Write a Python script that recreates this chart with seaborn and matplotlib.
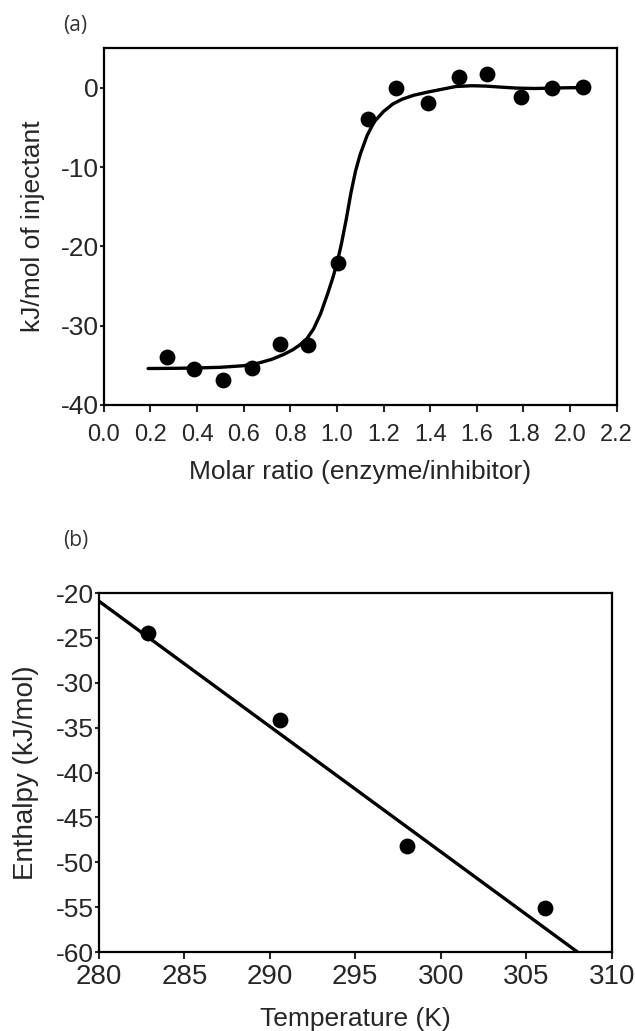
import matplotlib
matplotlib.use("Agg")
import matplotlib.pyplot as plt
import seaborn as sns
from matplotlib import font_manager

# Panel (a): ITC titration, integrated heats
ratio = [0.271, 0.389, 0.511, 0.634, 0.756, 0.878, 1.005, 1.135,
         1.255, 1.390, 1.522, 1.646, 1.790, 1.924, 2.057]
heat = [-34.0, -35.5, -36.8, -35.3, -32.3, -32.5, -22.1, -4.0,
        -0.05, -1.9, 1.4, 1.7, -1.2, -0.05, 0.1]

# fitted curve
fit_ratio = [0.19, 0.30, 0.40, 0.50, 0.60, 0.66, 0.72, 0.77, 0.81, 0.84,
             0.87, 0.90, 0.93, 0.96, 0.98, 1.00, 1.02, 1.04, 1.06, 1.08,
             1.10, 1.13, 1.16, 1.20, 1.24, 1.28, 1.33, 1.39, 1.45, 1.51,
             1.58, 1.64, 1.70, 1.77, 1.85, 1.92, 2.00, 2.06]
fit_heat = [-35.40, -35.38, -35.33, -35.25, -35.05, -34.75, -34.25, -33.65,
            -33.05, -32.45, -31.7, -30.4, -28.5, -26.0, -24.2, -22.2, -19.6,
            -16.6, -13.3, -10.5, -8.4, -6.0, -4.3, -3.0, -2.05, -1.45, -0.95,
            -0.55, -0.2, 0.15, 0.25, 0.2, 0.08, -0.05, -0.1, -0.05, 0.0, 0.0]

xticks_a = [0.0, 0.2, 0.4, 0.6, 0.8, 1.0, 1.2, 1.4, 1.6, 1.8, 2.0, 2.2]
xlabels_a = ["0.0", "0.2", "0.4", "0.6", "0.8", "1.0", "1.2", "1.4",
             "1.6", "1.8", "2.0", "2.2"]
yticks_a = [-40, -30, -20, -10, 0]

# Panel (b): enthalpy vs temperature
temp = [282.9, 290.6, 298.0, 306.1]
enthalpy = [-24.4, -34.1, -48.2, -55.1]
line_temp = [280.0, 308.0]
line_enthalpy = [-20.9, -60.0]

xticks_b = [280, 285, 290, 295, 300, 305, 310]
yticks_b = [-60, -55, -50, -45, -40, -35, -30, -25, -20]

sns.set_style("ticks")
plt.rcParams["font.family"] = ["Liberation Sans", "DejaVu Sans"]
plt.rcParams["axes.unicode_minus"] = False

names = {f.name for f in font_manager.fontManager.ttflist}
narrow = "Liberation Sans Narrow" in names

fig = plt.figure(figsize=(6.35, 10.31), dpi=100)
ax1 = fig.add_axes([0.1635, 0.6072, 0.8075, 0.3462])
ax2 = fig.add_axes([0.1557, 0.0766, 0.8076, 0.3482])

# ---- (a)
sns.lineplot(x=fit_ratio, y=fit_heat, ax=ax1, color="black", lw=2.4,
             estimator=None)
sns.scatterplot(x=ratio, y=heat, ax=ax1, color="black", s=130,
                linewidth=0, zorder=3)
ax1.set_xlim(0, 2.2)
ax1.set_ylim(-40, 5)
ax1.set_xticks(xticks_a)
ax1.set_xticklabels(xlabels_a)
ax1.set_yticks(yticks_a)
ax1.tick_params(axis="y", length=3, width=1.5, pad=0.5, labelsize=19)
ax1.tick_params(axis="x", length=5, width=1.5, pad=8.5, labelsize=17)
if narrow:
    for t in ax1.get_xticklabels():
        t.set_family(["Liberation Sans Narrow", "Liberation Sans"])
        t.set_fontsize(20)
ax1.set_xlabel("Molar ratio (enzyme/inhibitor)", fontsize=19)
ax1.set_ylabel("kJ/mol of injectant", fontsize=19)
ax1.xaxis.set_label_coords(0.5, -0.154)
ax1.yaxis.set_label_coords(-0.115, 0.5)

# ---- (b)
sns.lineplot(x=line_temp, y=line_enthalpy, ax=ax2, color="black", lw=2.4,
             estimator=None)
sns.scatterplot(x=temp, y=enthalpy, ax=ax2, color="black", s=130,
                linewidth=0, zorder=3)
ax2.set_xlim(280, 310)
ax2.set_ylim(-60, -20)
ax2.set_xticks(xticks_b)
ax2.set_yticks(yticks_b)
ax2.tick_params(axis="y", length=3, width=1.5, pad=0.5, labelsize=19)
ax2.tick_params(axis="x", length=5, width=1.5, pad=3.5, labelsize=20)
ax2.set_xlabel("Temperature (K)", fontsize=19)
ax2.set_ylabel("Enthalpy (kJ/mol)", fontsize=20)
ax2.xaxis.set_label_coords(0.5, -0.153)
ax2.yaxis.set_label_coords(-0.117, 0.5)

for ax in (ax1, ax2):
    for sp in ax.spines.values():
        sp.set_visible(True)
        sp.set_linewidth(1.6)
        sp.set_color("black")

fig.text(0.0992, 0.9748, "(a)", fontsize=15, color="#333333", va="center",
         family=["Open Sans", "DejaVu Sans"])
fig.text(0.0992, 0.4762, "(b)", fontsize=15, color="#333333", va="center",
         family=["Open Sans", "DejaVu Sans"])

fig.savefig("out.png", dpi=100)
